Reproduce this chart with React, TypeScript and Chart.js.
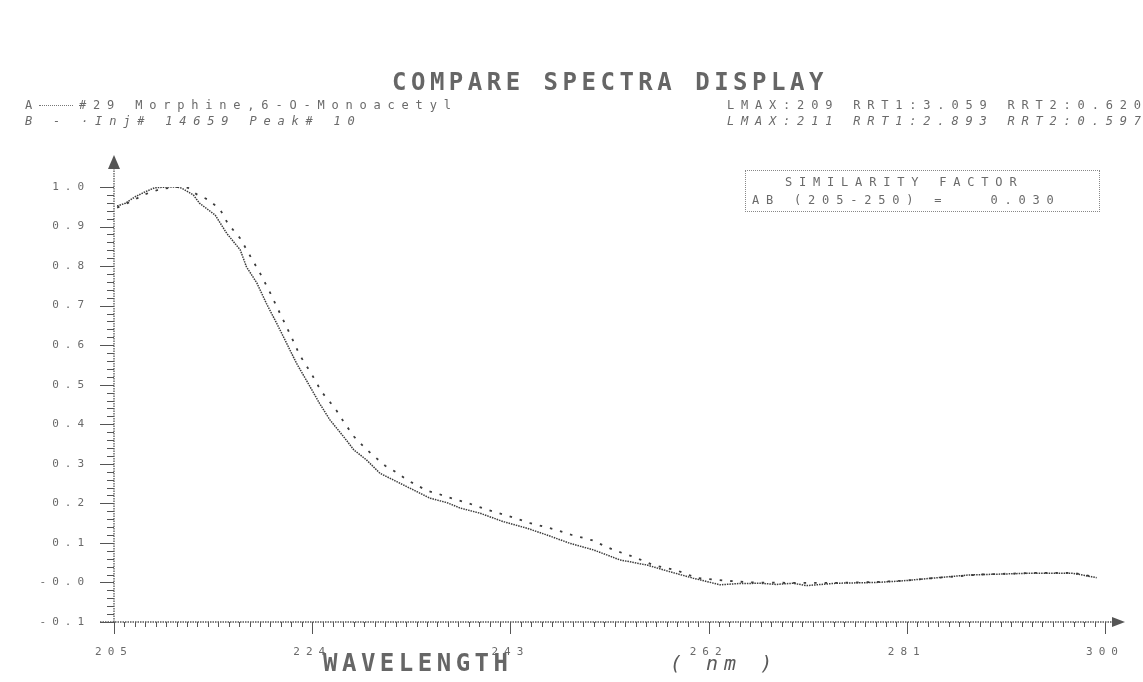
import React, { useEffect, useRef } from "react";
import { Chart, registerables } from "chart.js";

Chart.register(...registerables);

// Spectrum A (solid): #29 Morphine,6-O-Monoacetyl
const wavelengthA = [
  205.3, 206.1, 207.0, 208.0, 208.9, 210.0, 211.0, 211.5, 212.6, 213.2, 214.7, 215.8, 217.1, 217.7,
  218.7, 219.6, 220.6, 221.4, 222.5, 223.6, 224.7, 225.7, 227.0, 228.0, 229.2, 230.5, 232.1, 233.7,
  235.3, 236.9, 238.2, 240.1, 242.3, 244.6, 246.5, 248.7, 251.0, 253.5, 256.1, 258.3, 260.5, 263.1,
  264.7, 266.9, 268.5, 270.1, 271.4, 274.2, 278.1, 280.6, 283.5, 287.0, 292.5, 296.9, 297.6, 299.2,
];
const absorbanceA = [
  0.952, 0.959, 0.975, 0.988, 0.998, 1.0, 1.0, 0.997, 0.98, 0.959, 0.929, 0.883, 0.841, 0.798,
  0.757, 0.706, 0.655, 0.613, 0.554, 0.504, 0.453, 0.411, 0.369, 0.335, 0.31, 0.276, 0.255, 0.234,
  0.213, 0.202, 0.188, 0.175, 0.154, 0.137, 0.12, 0.099, 0.082, 0.057, 0.044, 0.027, 0.011, -0.006,
  -0.003, -0.002, -0.005, -0.002, -0.008, -0.002, 0.0, 0.004, 0.011, 0.019, 0.023, 0.023, 0.02, 0.012,
];

// Spectrum B (dotted): Inj# 14659 Peak# 10
const wavelengthB = [
  205.3, 206.5, 208.0, 209.5, 211.0, 212.1, 212.9, 214.1, 215.2, 215.9, 217.1, 218.0, 219.0, 220.0,
  220.9, 222.0, 222.8, 223.9, 224.9, 226.2, 227.0, 228.0, 229.1, 229.9, 231.0, 232.1, 233.1, 233.9,
  235.0, 236.1, 237.1, 239.0, 240.9, 242.8, 244.9, 247.1, 248.9, 250.8, 252.9, 254.8, 256.7, 259.0,
  260.9, 263.4, 266.0, 270.0, 274.5, 278.0, 281.0, 284.0, 288.0, 293.0, 297.0, 299.0,
];
const absorbanceB = [
  0.948, 0.962, 0.982, 0.995, 1.0, 0.998, 0.982, 0.967, 0.942, 0.908, 0.87, 0.828, 0.782, 0.731,
  0.681, 0.621, 0.575, 0.529, 0.482, 0.44, 0.407, 0.369, 0.339, 0.32, 0.295, 0.278, 0.259, 0.248,
  0.232, 0.224, 0.215, 0.2, 0.183, 0.168, 0.15, 0.135, 0.12, 0.107, 0.082, 0.065, 0.044, 0.03,
  0.011, 0.005, 0.0, -0.001, -0.001, 0.001, 0.005, 0.012, 0.02, 0.024, 0.024, 0.014,
];

const xLabelValues = [205, 224, 243, 262, 281, 300];
const yLabelValues = [1.0, 0.9, 0.8, 0.7, 0.6, 0.5, 0.4, 0.3, 0.2, 0.1, 0.0, -0.1];

const INK = "#555555";
const TEXT = "#6a6a6a";
const MONO = '"DejaVu Sans Mono", "Liberation Mono", monospace';

const spacingPlugin = {
  id: "letterSpacing",
  beforeLayout(chart: any) {
    (chart.ctx as any).letterSpacing = "6px";
  },
  beforeDraw(chart: any) {
    (chart.ctx as any).letterSpacing = "6px";
  },
};

const axisPlugin = {
  id: "dotMatrixAxes",
  afterDatasetsDraw(chart: any) {
    const ctx = chart.ctx;
    const { left, right, top, bottom } = chart.chartArea;
    const xs = chart.scales.x;
    const ys = chart.scales.y;
    ctx.save();
    ctx.strokeStyle = INK;
    ctx.fillStyle = INK;
    ctx.lineWidth = 1.3;
    ctx.setLineDash([1.5, 1]);
    ctx.beginPath();
    ctx.moveTo(left, bottom);
    ctx.lineTo(left, top - 22);
    ctx.stroke();
    ctx.beginPath();
    ctx.moveTo(left - 14, bottom);
    ctx.lineTo(right + 8, bottom);
    ctx.stroke();
    ctx.setLineDash([]);
    ctx.lineWidth = 1;
    ys.ticks.forEach((t: any) => {
      const y = Math.round(ys.getPixelForValue(t.value)) + 0.5;
      const major = t.label !== "";
      ctx.beginPath();
      ctx.moveTo(left - (major ? 14 : 7), y);
      ctx.lineTo(left, y);
      ctx.stroke();
    });
    xs.ticks.forEach((t: any) => {
      const x = Math.round(xs.getPixelForValue(t.value)) + 0.5;
      const major = t.label !== "";
      ctx.beginPath();
      ctx.moveTo(x, bottom);
      ctx.lineTo(x, bottom + (major ? 12 : 5));
      ctx.stroke();
    });
    ctx.beginPath();
    ctx.moveTo(left, top - 32);
    ctx.lineTo(left - 6, top - 18);
    ctx.lineTo(left + 6, top - 18);
    ctx.closePath();
    ctx.fill();
    ctx.beginPath();
    ctx.moveTo(right + 20, bottom);
    ctx.lineTo(right + 7, bottom - 5);
    ctx.lineTo(right + 7, bottom + 5);
    ctx.closePath();
    ctx.fill();
    ctx.restore();
  },
};

const txt = (extra: React.CSSProperties): React.CSSProperties => ({
  position: "absolute",
  fontFamily: MONO,
  color: TEXT,
  fontSize: 12,
  letterSpacing: "6.8px",
  lineHeight: "14px",
  whiteSpace: "pre",
  ...extra,
});

export default function App() {
  const ref = useRef<HTMLCanvasElement | null>(null);

  useEffect(() => {
    if (!ref.current) return;
    const chart = new Chart(ref.current, {
      type: "line",
      data: {
        datasets: [
          {
            label: "A",
            data: wavelengthA.map((x, i) => ({ x, y: absorbanceA[i] })),
            borderColor: "#3c3c3c",
            borderWidth: 1.5,
            borderDash: [1.5, 1],
            pointRadius: 0,
            tension: 0,
            fill: false,
          },
          {
            label: "B",
            data: wavelengthB.map((x, i) => ({ x, y: absorbanceB[i] })),
            borderColor: "#3c3c3c",
            borderWidth: 1.8,
            borderDash: [2.5, 8],
            pointRadius: 0,
            tension: 0,
            fill: false,
          },
        ],
      },
      options: {
        responsive: false,
        animation: false,
        events: [],
        layout: { padding: { top: 187, right: 38, left: 0, bottom: 0 } },
        plugins: { legend: { display: false }, tooltip: { enabled: false }, title: { display: false } },
        scales: {
          x: {
            type: "linear",
            min: 205,
            max: 300,
            border: { display: false },
            grid: { display: false },
            afterFit: (s: any) => {
              s.height = 60;
            },
            ticks: {
              stepSize: 1,
              autoSkip: false,
              maxRotation: 0,
              padding: 16,
              color: TEXT,
              font: { family: MONO, size: 11 },
              callback: (v: any) => (xLabelValues.includes(Number(v)) ? String(v) : ""),
            },
          },
          y: {
            type: "linear",
            min: -0.1,
            max: 1.0,
            border: { display: false },
            grid: { display: false },
            afterFit: (s: any) => {
              s.width = 114;
            },
            ticks: {
              stepSize: 0.02,
              autoSkip: false,
              padding: 16,
              color: TEXT,
              font: { family: MONO, size: 11 },
              callback: (v: any) => {
                const n = Number(v);
                const m = yLabelValues.find((l) => Math.abs(l - n) < 1e-6);
                if (m === undefined) return "";
                return Math.abs(m) < 1e-9 ? "-0.0" : m.toFixed(1);
              },
            },
          },
        },
      },
      plugins: [spacingPlugin, axisPlugin],
    });
    return () => chart.destroy();
  }, []);

  return (
    <div
      style={{
        position: "fixed",
        left: 0,
        top: 0,
        width: 1143,
        height: 682,
        background: "#ffffff",
        overflow: "hidden",
      }}
    >
      <canvas ref={ref} width={1143} height={682} style={{ position: "absolute", left: 0, top: 0 }} />
      <div
        style={txt({
          left: 392,
          top: 68,
          fontSize: 24,
          lineHeight: "28px",
          letterSpacing: "4.5px",
          fontWeight: "bold",
          color: "#666666",
        })}
      >
        COMPARE SPECTRA DISPLAY
      </div>
      <div style={txt({ left: 25, top: 98 })}>
        A
        <span
          style={{
            display: "inline-block",
            width: 34,
            marginRight: 6,
            borderTop: "1.5px dotted #777",
            verticalAlign: "middle",
          }}
        />
        #29 Morphine,6-O-Monoacetyl
      </div>
      <div style={txt({ left: 25, top: 114, fontStyle: "italic" })}>B - ·Inj# 14659 Peak# 10</div>
      <div style={txt({ left: 727, top: 98 })}>LMAX:209 RRT1:3.059 RRT2:0.620</div>
      <div style={txt({ left: 727, top: 114, fontStyle: "italic" })}>LMAX:211 RRT1:2.893 RRT2:0.597</div>
      <div
        style={{
          position: "absolute",
          left: 745,
          top: 170,
          width: 355,
          height: 42,
          border: "1.5px dotted #888",
          boxSizing: "border-box",
        }}
      />
      <div style={txt({ left: 785, top: 175 })}>SIMILARITY FACTOR</div>
      <div style={txt({ left: 752, top: 193 })}>AB (205-250) =   0.030</div>
      <div
        style={txt({
          left: 323,
          top: 649,
          fontSize: 24,
          lineHeight: "28px",
          letterSpacing: "4.5px",
          fontWeight: "bold",
          color: "#666666",
        })}
      >
        WAVELENGTH
      </div>
      <div
        style={txt({
          left: 670,
          top: 651,
          fontSize: 20,
          lineHeight: "24px",
          letterSpacing: "6px",
          fontStyle: "italic",
          color: "#5a5a5a",
        })}
      >
        ( nm )
      </div>
    </div>
  );
}
